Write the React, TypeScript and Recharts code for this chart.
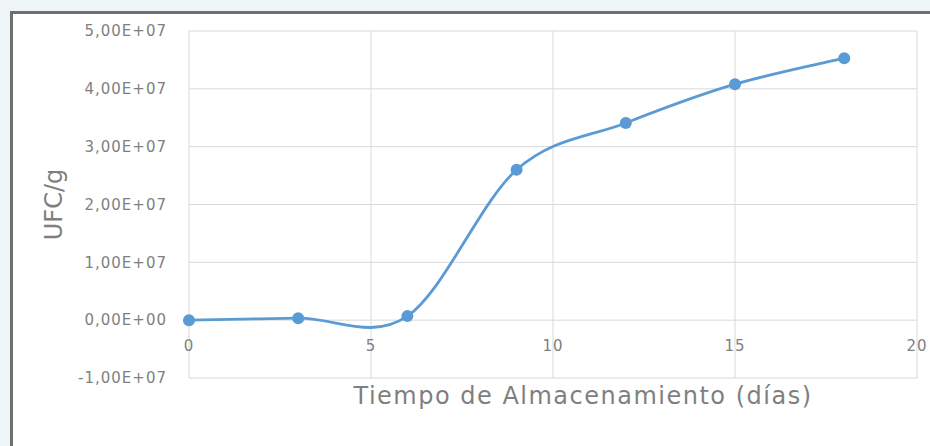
import { LineChart, Line, XAxis, YAxis, CartesianGrid } from "recharts";

const days = [0, 3, 6, 9, 12, 15, 18];
const ufc = [0, 350000, 700000, 26000000, 34100000, 40800000, 45300000];
const xTicks = [0, 5, 10, 15, 20];
const yTicks = [-10000000, 0, 10000000, 20000000, 30000000, 40000000, 50000000];

const data = days.map((d, i) => ({ dia: d, ufc: ufc[i] }));

const sci = (v: number) => {
  if (v === 0) return "0,00E+00";
  const exp = Math.floor(Math.log10(Math.abs(v)));
  const m = (v / Math.pow(10, exp)).toFixed(2).replace(".", ",");
  return `${m}E+${String(exp).padStart(2, "0")}`;
};

// Excel-like smoothed line (Catmull-Rom through the points)
const excelSmooth = (context: any) => {
  let pts: [number, number][] = [];
  return {
    areaStart() {},
    areaEnd() {},
    lineStart() {
      pts = [];
    },
    point(x: number, y: number) {
      pts.push([+x, +y]);
    },
    lineEnd() {
      if (!pts.length) return;
      context.moveTo(pts[0][0], pts[0][1]);
      for (let i = 0; i < pts.length - 1; i++) {
        const p0 = pts[Math.max(0, i - 1)];
        const p1 = pts[i];
        const p2 = pts[i + 1];
        const p3 = pts[Math.min(pts.length - 1, i + 2)];
        context.bezierCurveTo(
          p1[0] + (p2[0] - p0[0]) / 6,
          p1[1] + (p2[1] - p0[1]) / 6,
          p2[0] - (p3[0] - p1[0]) / 6,
          p2[1] - (p3[1] - p1[1]) / 6,
          p2[0],
          p2[1]
        );
      }
    },
  };
};

const FONT = "'DejaVu Sans', sans-serif";
const GREY = "#7f7f7f";
const BLUE = "#5b9bd5";

const XTick = (props: any) => {
  const { x, y, payload } = props;
  return (
    <text x={x} y={y - 35} textAnchor="middle" fill={GREY} fontSize={15} fontFamily={FONT} letterSpacing={1}>
      {payload.value}
    </text>
  );
};

const XTitle = (props: any) => {
  const { viewBox } = props;
  return (
    <text
      x={viewBox.x + viewBox.width / 2 + 30}
      y={viewBox.y + 26}
      textAnchor="middle"
      fill={GREY}
      fontSize={24}
      fontFamily={FONT}
      letterSpacing={1.5}
    >
      Tiempo de Almacenamiento (días)
    </text>
  );
};

const YTitle = (props: any) => {
  const { viewBox } = props;
  const cy = viewBox.y + viewBox.height / 2;
  return (
    <text
      x={54}
      y={cy}
      transform={`rotate(-90 54 ${cy})`}
      textAnchor="middle"
      dominantBaseline="central"
      fill={GREY}
      fontSize={24}
      fontFamily={FONT}
    >
      UFC/g
    </text>
  );
};

export default function App() {
  return (
    <div
      style={{
        position: "fixed",
        left: 0,
        top: 0,
        width: 930,
        height: 446,
        overflow: "hidden",
        background: "#eef5f6",
      }}
    >
      <div
        style={{
          position: "absolute",
          left: 10,
          top: 11,
          width: 940,
          height: 460,
          background: "#fff",
          borderLeft: "3px solid #6f6f6f",
          borderTop: "3px solid #6f6f6f",
        }}
      />
      <div style={{ position: "absolute", left: 0, top: 0 }}>
        <LineChart
          width={930}
          height={446}
          data={data}
          margin={{ top: 31, right: 13, bottom: 0, left: 89 }}
        >
          <CartesianGrid stroke="#d9d9d9" strokeWidth={1} />
          <XAxis
            dataKey="dia"
            type="number"
            domain={[0, 20]}
            ticks={xTicks}
            axisLine={false}
            tickLine={false}
            height={68}
            tick={<XTick />}
            label={<XTitle />}
          />
          <YAxis
            type="number"
            domain={[-10000000, 50000000]}
            ticks={yTicks}
            tickFormatter={sci}
            axisLine={false}
            tickLine={false}
            tickSize={0}
            tickMargin={22}
            width={100}
            tick={{ fill: GREY, fontSize: 15, fontFamily: FONT, letterSpacing: 1 }}
            label={<YTitle />}
          />
          <Line
            type={excelSmooth as any}
            dataKey="ufc"
            stroke={BLUE}
            strokeWidth={2.8}
            dot={{ r: 6, fill: BLUE, stroke: BLUE, strokeWidth: 0 }}
            isAnimationActive={false}
          />
        </LineChart>
      </div>
    </div>
  );
}
